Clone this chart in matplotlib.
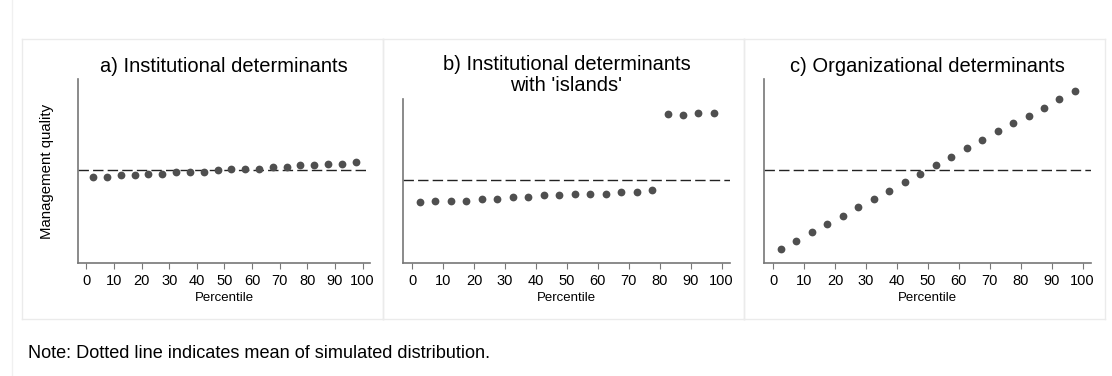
import matplotlib
matplotlib.use("Agg")
import matplotlib.pyplot as plt
import numpy as np

plt.rcParams['font.family'] = ['Liberation Sans', 'DejaVu Sans']
plt.rcParams['lines.scale_dashes'] = False

W, H = 1112, 376

# percentile bins (mid points) and simulated management quality per bin
percentile = [2.5, 7.5, 12.5, 17.5, 22.5, 27.5, 32.5, 37.5, 42.5, 47.5,
              52.5, 57.5, 62.5, 67.5, 72.5, 77.5, 82.5, 87.5, 92.5, 97.5]

quality_inst = [-0.30, -0.30, -0.22, -0.22, -0.13, -0.13, -0.05, -0.05, -0.05, 0.03,
                0.12, 0.12, 0.12, 0.20, 0.20, 0.28, 0.28, 0.37, 0.37, 0.45]

quality_islands = [-1.05, -0.99, -0.99, -0.99, -0.90, -0.90, -0.82, -0.80, -0.72, -0.72,
                   -0.63, -0.63, -0.63, -0.55, -0.55, -0.47, 3.33, 3.30, 3.40, 3.40]

quality_org = [-3.90, -3.49, -3.07, -2.65, -2.24, -1.82, -1.40, -0.99, -0.57, -0.13,
               0.30, 0.72, 1.13, 1.57, 1.98, 2.40, 2.73, 3.15, 3.58, 4.00]

titles = ["a) Institutional determinants",
          "b) Institutional determinants\nwith 'islands'",
          "c) Organizational determinants"]
xticks = [0, 10, 20, 30, 40, 50, 60, 70, 80, 90, 100]

fig = plt.figure(figsize=(W / 100, H / 100), dpi=100)
fig.patch.set_facecolor('white')


def px_axes(left, right, top, bottom):
    return fig.add_axes([left / W, 1 - bottom / H, (right - left) / W, (bottom - top) / H])


def px_line(x0, x1, y0, y1, color='#ebebeb'):
    fig.add_artist(plt.Line2D([x0 / W, x1 / W], [1 - y0 / H, 1 - y1 / H],
                              color=color, lw=1, transform=fig.transFigure))


# light panel frames
px_line(12, 12, 0, H, '#f0f0f0')
for x0, x1 in [(22, 383), (383, 744), (744, 1105)]:
    px_line(x0, x1, 39, 39)
    px_line(x0, x1, 319, 319)
    px_line(x0, x0, 39, 319)
    px_line(x1, x1, 39, 319)

boxes = [(78, 370, 79, 263, 4.6), (403, 730, 99, 263, 4.1), (764, 1091, 79, 263, 4.6)]
series = [quality_inst, quality_islands, quality_org]

for i, ((l, r, t, b, ylim), vals, title) in enumerate(zip(boxes, series, titles)):
    ax = px_axes(l, r, t, b)
    ax.plot(percentile, vals, 'o', color='#4f4f4f', markersize=5.6, markeredgewidth=0, zorder=3)
    ax.axhline(np.mean(vals), color='#222222', lw=1.0, dashes=(7.5, 3), zorder=2)
    ax.set_xlim(-3, 102.7)
    ax.set_ylim(-ylim, ylim)
    ax.set_xticks(xticks)
    ax.set_yticks([])
    ax.tick_params(axis='x', direction='out', length=4, width=0.8, color='#777777',
                   labelsize=10.5, pad=4)
    for side in ['top', 'right']:
        ax.spines[side].set_visible(False)
    for side in ['left', 'bottom']:
        ax.spines[side].set_color('#777777')
        ax.spines[side].set_linewidth(1.2)
    ax.set_xlabel("Percentile", fontsize=9.5, labelpad=3)
    ax.set_title(title, fontsize=14.5, pad=5 if i != 1 else 6, linespacing=1.08)
    if i == 0:
        ax.set_ylabel("Management quality", fontsize=10.8, labelpad=17)

fig.text(28 / W, 1 - 354 / H, "Note: Dotted line indicates mean of simulated distribution.",
         fontsize=13.1, va='center', ha='left')

fig.savefig("out.png", dpi=100)
